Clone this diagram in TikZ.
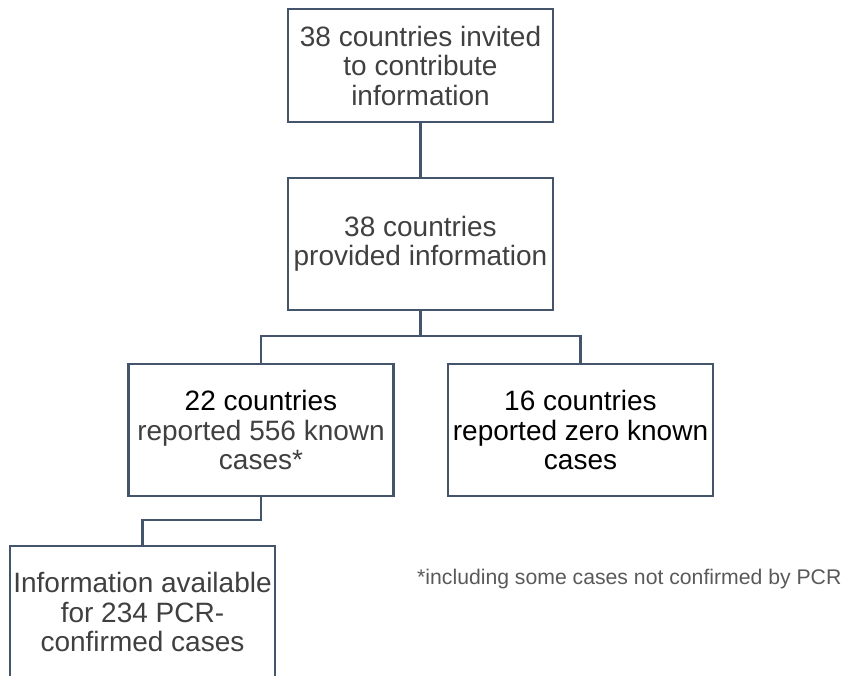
\documentclass[tikz,border=0pt]{standalone}
\usepackage{fontspec}
\setmainfont{Liberation Sans}
\definecolor{framegray}{HTML}{44546A}
\definecolor{textgray}{HTML}{404040}
\definecolor{notegray}{HTML}{595959}
\begin{document}
\begin{tikzpicture}[x=1pt, y=1pt,
	flowbox/.style={draw=framegray, line width=2.2pt, minimum width=265pt, inner sep=0pt, align=center, text=textgray, font=\fontsize{28}{29.5}\selectfont},
	link/.style={draw=framegray, line width=2.2pt}]
			%%%%% START %%%%%
			
			\useasboundingbox (0, 0) rectangle (848, -675);
			\clip (0, 0) rectangle (848, -675);
			
			\node[flowbox, minimum height=113pt] (invited) at (420.5, -65.5) {38 countries invited\\to contribute\\information};
			\node[flowbox, minimum height=132pt] (provided) at (420.5, -244) {38 countries\\provided information};
			
			\node[flowbox, minimum height=132pt] (known) at (261, -430) {\textcolor{black}{22 countries}\\reported 556 known\\cases*};
			\node[flowbox, minimum height=132pt, text=black] (zero) at (580.5, -430) {16 countries\\reported zero known\\cases};
			
			\node[flowbox, minimum height=132pt] (pcr) at (142.5, -612) {Information available\\for 234 PCR-\\confirmed cases};
			
			\draw[link] (invited.south) -- (provided.north);
			\draw[link] (provided.south) -- ++(0, -25) -| (known.north);
			\draw[link] (provided.south) -- ++(0, -25) -| (zero.north);
			\draw[link] (known.south) -- ++(0, -23) -| (pcr.north);
			
			\node[anchor=west, inner sep=0pt, text=notegray, font=\fontsize{21.2}{24}\selectfont] (note) at (417, -579) {*including some cases not confirmed by PCR};
			
			%%%%% END %%%%%
\end{tikzpicture}
\end{document}
